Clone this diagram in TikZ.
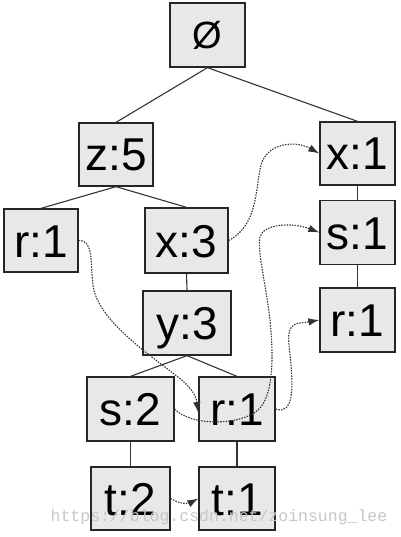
\documentclass[tikz,border=0pt]{standalone}
\usepackage{fontspec}
\setmainfont{Liberation Sans}
\newfontfamily\wmfont{Liberation Mono}
\usetikzlibrary{arrows.meta}
\tikzset{
  box/.style={draw=black!85, line width=1.3pt, fill=black!9, inner sep=0pt,
    font=\fontsize{46}{46}\selectfont, text height=33pt, text depth=0pt},
  edge/.style={draw=black!80, line width=1.1pt},
  link/.style={draw=black!80, line width=1.1pt, dash pattern=on 1.5pt off 1.2pt,
    -{Latex[length=11pt,width=7.5pt]}},
}
\begin{document}
\begin{tikzpicture}[x=1pt,y=-1pt]
\path[fill=white] (0,0) rectangle (400,537);
\useasboundingbox (0,0) rectangle (400,537);

\node[box, minimum width=75pt, minimum height=64pt, font=\fontsize{38}{38}\selectfont, text height=28pt] (root) at (207.5,35) {Ø};
\node[box, minimum width=74pt, minimum height=63pt] (z5) at (116,154.5) {z:5};
\node[box, minimum width=75pt, minimum height=63pt] (x1) at (357.5,153.5) {x:1};
\node[box, minimum width=74pt, minimum height=63pt] (r1a) at (41,240.5) {r:1};
\node[box, minimum width=83pt, minimum height=65pt] (x3) at (186.5,240.5) {x:3};
\node[box, minimum width=75pt, minimum height=64pt] (s1) at (357.5,232.5) {s:1};
\node[box, minimum width=75pt, minimum height=64pt] (r1b) at (357.5,320) {r:1};
\node[box, minimum width=88pt, minimum height=64pt] (y3) at (187,323) {y:3};
\node[box, minimum width=87pt, minimum height=64pt] (s2) at (130.5,409) {s:2};
\node[box, minimum width=76pt, minimum height=64pt] (r1c) at (237,409) {r:1};
\node[box, minimum width=79pt, minimum height=63pt] (t2) at (130.5,498.5) {t:2};
\node[box, minimum width=76pt, minimum height=63pt] (t1) at (237,498.5) {t:1};

\draw[edge] (root.south) -- (z5.north);
\draw[edge] (root.south) -- (x1.north);
\draw[edge] (z5.south) -- (r1a.north);
\draw[edge] (z5.south) -- (x3.north);
\draw[edge] (x3.south) -- (y3.north);
\draw[edge] (y3.south) -- (s2.north);
\draw[edge] (y3.south) -- (r1c.north);
\draw[edge] (s2.south) -- (t2.north);
\draw[edge] (r1c.south) -- (t1.north);
\draw[edge] (x1.south) -- (s1.north);
\draw[edge] (s1.south) -- (r1b.north);

% dotted links
\draw[link] (x3.east) .. controls (258,225) and (255,190) .. (261,165)
  .. controls (267,143) and (295,140) .. (x1.west);
\draw[link] (r1a.east) .. controls (94,240) and (90,262) .. (93,285)
  .. controls (97,320) and (150,355) .. (178,377)
  .. controls (192,388) and (196,396) .. ([yshift=-4pt]r1c.west);
\draw[link] (s2.east) .. controls (190,426) and (240,426) .. (258,410)
  .. controls (275,395) and (273,350) .. (270,320)
  .. controls (266,285) and (257,250) .. (260,237)
  .. controls (263,224) and (292,222) .. (s1.west);
\draw[link] (r1c.east) .. controls (293,415) and (293,390) .. (291,365)
  .. controls (289,340) and (284,325) .. (300,323)
  .. controls (308,322) .. (r1b.west);
\draw[link] (t2.east) .. controls (180,505) and (190,503) .. (t1.west);

\node[text=black!22, font=\wmfont\fontsize{16.5}{16.5}\selectfont] (wm) at (219,517) {https://blog.csdn.net/zoinsung\_lee};
\end{tikzpicture}
\end{document}
